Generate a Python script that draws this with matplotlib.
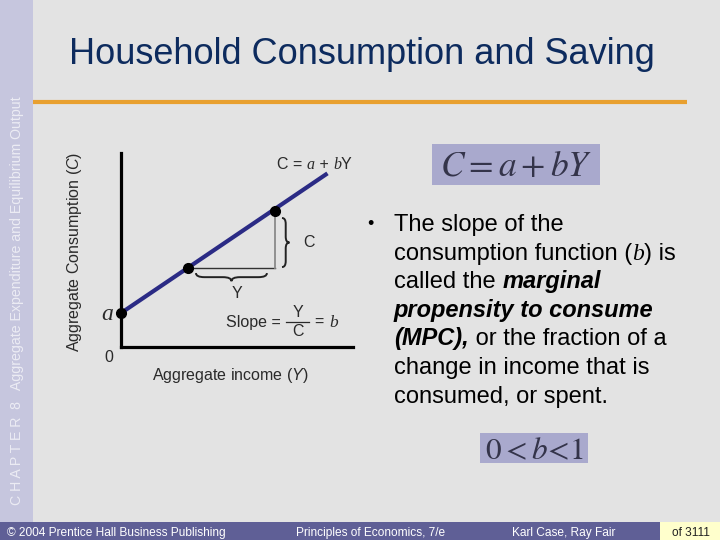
import matplotlib
matplotlib.use("Agg")
import matplotlib.pyplot as plt
from matplotlib.patches import Rectangle, PathPatch
from matplotlib.path import Path

plt.rcParams['font.family'] = ['Liberation Sans', 'DejaVu Sans']
plt.rcParams['mathtext.fontset'] = 'custom'
plt.rcParams['mathtext.rm'] = 'Liberation Sans'
plt.rcParams['mathtext.it'] = 'Liberation Sans:italic'

# consumption function C = a + bY
income_line = [0.0, 8.9]
consumption_line = [1.75, 8.95]
point_income = [0.0, 2.89, 6.64]
point_consumption = [1.75, 4.07, 7.01]

title = "Household Consumption and Saving"
side_label = "C H A P T E R  8   Aggregate Expenditure and Equilibrium Output"
footer = ["\u00a9 2004 Prentice Hall Business Publishing",
          "Principles of Economics, 7/e", "Karl Case, Ray Fair", "of 3111"]

SANS = 'Liberation Sans'
SERIF = 'Liberation Serif'

fig = plt.figure(figsize=(7.2, 5.4), dpi=100)
fig.patch.set_facecolor('#e3e3e3')

# full-slide layer in pixel units
bg = fig.add_axes([0, 0, 1, 1])
bg.set_xlim(0, 720)
bg.set_ylim(540, 0)
bg.axis('off')

bg.add_patch(Rectangle((0, 0), 33, 522, color='#c6c6de', lw=0))
bg.add_patch(Rectangle((0, 522), 660, 18, color='#5f5f96', lw=0))
bg.add_patch(Rectangle((660, 522), 60, 18, color='#ffffcc', lw=0))
bg.plot([33, 687], [102, 102], color='#e8a030', lw=3, solid_capstyle='butt')

bg.text(17, 505, side_label, rotation=90, ha='center', va='bottom',
        fontsize=10.2, color='#ececf4')
bg.text(69, 64, title, fontsize=26, color='#0d2b5e', va='baseline')

bg.text(7, 536, footer[0], fontsize=8.6, color='white', va='baseline')
bg.text(296, 536, footer[1], fontsize=8.6, color='white', va='baseline')
bg.text(512, 536, footer[2], fontsize=8.6, color='white', va='baseline')
bg.text(672, 536, footer[3], fontsize=8.6, color='#222222', va='baseline')

# formula boxes
bg.add_patch(Rectangle((432, 144), 168, 41, color='#a9a9cd', lw=0))
bg.text(516, 176, r"$C = a + bY$", fontsize=25.5, color='#34344a', ha='center',
        va='baseline', math_fontfamily='stix')
bg.add_patch(Rectangle((480, 433), 108, 30, color='#a9a9cd', lw=0))
bg.text(534, 459, r"$0 < b\!<\!1$", fontsize=22.5, color='#34344a', ha='center',
        va='baseline', math_fontfamily='stix')

renderer = fig.canvas.get_renderer()


def width_of(s, **kw):
    a = bg.text(0, 0, "|" + s + "|", **kw)
    b = bg.text(0, 0, "||", **kw)
    w = a.get_window_extent(renderer).width - b.get_window_extent(renderer).width
    a.remove()
    b.remove()
    return w


def rich(x, y, parts, size, color):
    for s, kw in parts:
        style = dict(fontsize=size, color=color, family=SANS)
        style.update(kw)
        bg.text(x, y, s, va='baseline', ha='left', **style)
        x += width_of(s, **style)


BI = dict(fontweight='bold', style='italic')
SI = dict(family=SERIF, style='italic')

bullet_lines = [
    [("The slope of the", {})],
    [("consumption function (", {}), ("b", SI), (") is", {})],
    [("called the ", {}), ("marginal", BI)],
    [("propensity to consume", BI)],
    [("(MPC),", BI), (" or the fraction of a", {})],
    [("change in income that is", {})],
    [("consumed, or spent.", {})],
]
bg.text(370, 229, "\u2022", fontsize=13, ha='center', va='baseline')
for i, parts in enumerate(bullet_lines):
    rich(394, 231 + i * 28.6, parts, 17, 'black')

# chart labels
txt = '#2a2a2a'
bg.text(230, 380, r"Aggregate income ($Y$)", fontsize=11.5, color=txt,
        ha='center', va='baseline')
bg.text(74, 252, r"Aggregate Consumption ($C$)", fontsize=11.5, color=txt,
        rotation=90, ha='center', va='center')
bg.text(109, 362, "0", fontsize=11.5, color=txt, ha='center', va='baseline')
bg.text(107, 320, "a", fontsize=17, color=txt, ha='center', va='baseline', **SI)
rich(277, 169, [("C = ", {}), ("a", SI), (" + ", {}), ("b", SI), ("Y", {})],
     11.5, txt)
bg.text(237, 298, "Y", fontsize=11.5, color=txt, ha='center', va='baseline')
bg.text(309, 247, "C", fontsize=11.5, color=txt, ha='center', va='baseline')
bg.text(226, 327, "Slope =", fontsize=11.5, color=txt, va='baseline')
bg.text(298, 317, "Y", fontsize=11.5, color=txt, ha='center', va='baseline')
bg.text(298, 336, "C", fontsize=11.5, color=txt, ha='center', va='baseline')
bg.plot([286, 309], [322, 322], color=txt, lw=0.9)
bg.text(314, 327, "=", fontsize=11.5, color=txt, va='baseline')
bg.text(334, 327, "b", fontsize=12.5, color=txt, ha='center', va='baseline', **SI)

# the chart itself
ax = fig.add_axes([121 / 720, (540 - 347) / 540, 232 / 720, 194 / 540])
ax.set_facecolor('none')
ax.set_xlim(0, 10)
ax.set_ylim(0, 10)
for side in ['top', 'right']:
    ax.spines[side].set_visible(False)
for side in ['left', 'bottom']:
    ax.spines[side].set_linewidth(2.3)
    ax.spines[side].set_color('black')
ax.set_xticks([])
ax.set_yticks([])

ax.plot(income_line, consumption_line, color='#2b2b85', lw=3, solid_capstyle='butt')
ax.plot([point_income[1], point_income[2]],
        [point_consumption[1], point_consumption[1]], color='#333333', lw=1)
ax.plot([point_income[2], point_income[2]],
        [point_consumption[1], point_consumption[2]], color='#8a8a8a', lw=1.3)
ax.plot(point_income, point_consumption, 'o', color='black', ms=7, clip_on=False,
        zorder=5)


def brace(u0, u1, base, depth, horizontal):
    L = u1 - u0
    w = 0.12 * L
    h = depth
    uv = [(0, 0), (0, h / 2), (w, h / 2), (L / 2 - w, h / 2), (L / 2, h / 2),
          (L / 2, h), (L / 2, h / 2), (L / 2 + w, h / 2), (L - w, h / 2),
          (L, h / 2), (L, 0)]
    codes = [Path.MOVETO, Path.CURVE3, Path.CURVE3, Path.LINETO, Path.CURVE3,
             Path.CURVE3, Path.CURVE3, Path.CURVE3, Path.LINETO, Path.CURVE3,
             Path.CURVE3]
    if horizontal:
        verts = [(u0 + u, base - v) for u, v in uv]
    else:
        verts = [(base + v, u0 + u) for u, v in uv]
    ax.add_patch(PathPatch(Path(verts, codes), fill=False, color='#222222',
                           lw=1.4, clip_on=False))


brace(point_income[1] + 0.34, point_income[2] - 0.35,
      point_consumption[1] - 0.26, 0.42, True)
brace(point_consumption[1] + 0.05, point_consumption[2] - 0.36,
      point_income[2] + 0.3, 0.32, False)

fig.savefig("out.png", dpi=100, facecolor=fig.get_facecolor())
